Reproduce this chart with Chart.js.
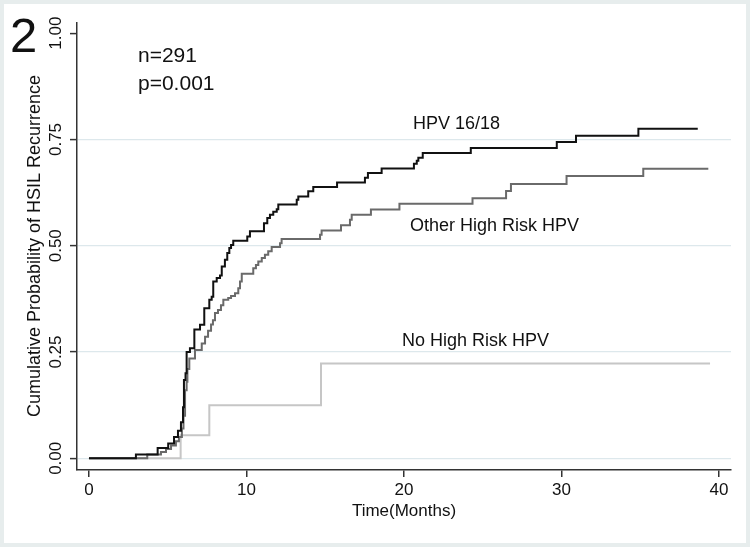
<!DOCTYPE html>
<html>
<head>
<meta charset="utf-8">
<title>HSIL recurrence by HPV type</title>
<script src="https://cdn.jsdelivr.net/npm/chart.js@4.4.1/dist/chart.umd.min.js"></script>
<style>
  html, body { margin: 0; padding: 0; background: #fff; }
  #wrap { width: 750px; height: 547px; position: relative; }
</style>
</head>
<body>
<div id="wrap"><canvas id="myChart" width="750" height="547"></canvas></div>
<script>
// --- Data (time in months, cumulative probability) ---
const hpv1618Time = [0, 2.98, 4.36, 5.03, 5.4, 5.65, 5.84, 5.97, 6.03, 6.13, 6.2, 6.41, 6.69, 7.05, 7.32, 7.64, 7.79, 7.89, 8.11, 8.32, 8.43, 8.63, 8.78, 8.91, 9.02, 9.16, 10.05, 10.22, 11.11, 11.32, 11.49, 11.7, 11.92, 12.02, 13.19, 13.29, 13.92, 14.24, 15.75, 17.52, 17.71, 18.58, 20.63, 20.81, 20.91, 21.19, 24.24, 29.7, 30.92, 34.88, 38.65];
const hpv1618Prob = [0, 0.009, 0.024, 0.035, 0.05, 0.065, 0.085, 0.12, 0.184, 0.2, 0.25, 0.259, 0.303, 0.314, 0.353, 0.373, 0.38, 0.416, 0.424, 0.43, 0.451, 0.467, 0.483, 0.495, 0.502, 0.512, 0.522, 0.534, 0.553, 0.565, 0.573, 0.58, 0.586, 0.597, 0.608, 0.616, 0.628, 0.638, 0.649, 0.66, 0.671, 0.682, 0.693, 0.7, 0.707, 0.718, 0.73, 0.744, 0.759, 0.775, 0.775];

const otherHrTime = [0, 3.7, 4.57, 4.89, 5.21, 5.52, 5.71, 5.9, 6.0, 6.1, 6.2, 6.25, 6.37, 6.73, 7.16, 7.37, 7.56, 7.75, 7.87, 8.0, 8.19, 8.38, 8.53, 8.84, 9.02, 9.27, 9.48, 9.59, 9.7, 10.43, 10.6, 10.75, 10.97, 11.17, 11.38, 11.6, 12.13, 12.23, 14.67, 14.77, 16.0, 16.57, 16.68, 17.9, 19.71, 24.35, 26.48, 26.79, 30.32, 35.19, 39.32];
const otherHrProb = [0, 0.009, 0.015, 0.022, 0.03, 0.04, 0.05, 0.07, 0.1, 0.16, 0.18, 0.21, 0.235, 0.255, 0.27, 0.286, 0.3, 0.315, 0.325, 0.342, 0.349, 0.36, 0.373, 0.377, 0.382, 0.388, 0.4, 0.416, 0.434, 0.447, 0.455, 0.463, 0.471, 0.479, 0.487, 0.497, 0.506, 0.516, 0.526, 0.536, 0.548, 0.561, 0.573, 0.585, 0.599, 0.612, 0.629, 0.645, 0.664, 0.681, 0.681];

const noHrTime = [0, 5.82, 7.64, 14.73, 39.43];
const noHrProb = [0, 0.054, 0.125, 0.223, 0.223];

const seriesNames = ['HPV 16/18', 'Other High Risk HPV', 'No High Risk HPV'];
const xTickValues = [0, 10, 20, 30, 40];
const yTickValues = [0, 0.25, 0.5, 0.75, 1];
const yTickLabels = ['0.00', '0.25', '0.50', '0.75', '1.00'];

const FONT = '"Liberation Sans", Arial, Helvetica, sans-serif';

// --- helper: zip time/prob arrays into {x,y} points ---
function toPoints(times, probs) {
  return times.map((t, i) => ({ x: t, y: probs[i] }));
}

// --- frame, titles, annotations ---
const decorPlugin = {
  id: 'decor',
  beforeDraw(chart) {
    const ctx = chart.ctx;
    ctx.save();
    ctx.fillStyle = '#e7eded';
    ctx.fillRect(0, 0, chart.width, chart.height);
    ctx.fillStyle = '#ffffff';
    ctx.fillRect(4, 4, chart.width - 8, chart.height - 8);
    ctx.restore();
  },
  afterDraw(chart) {
    const ctx = chart.ctx;
    const yScale = chart.scales.y;
    ctx.save();
    ctx.fillStyle = '#111';

    // y tick labels, vertical like the original
    ctx.font = '17px ' + FONT;
    ctx.textAlign = 'center';
    ctx.textBaseline = 'middle';
    yTickValues.forEach((v, i) => {
      const py = yScale.getPixelForValue(v);
      ctx.save();
      ctx.translate(56, py);
      ctx.rotate(-Math.PI / 2);
      ctx.fillText(yTickLabels[i], 0, 0);
      ctx.restore();
    });

    // y axis title
    ctx.save();
    ctx.font = '18px ' + FONT;
    ctx.translate(35, 246);
    ctx.rotate(-Math.PI / 2);
    ctx.fillText('Cumulative Probability of HSIL Recurrence', 0, 0);
    ctx.restore();

    // x axis title
    ctx.font = '17px ' + FONT;
    ctx.fillText('Time(Months)', 404, 511);

    // panel number and stats
    ctx.textAlign = 'left';
    ctx.textBaseline = 'alphabetic';
    ctx.font = '49px ' + FONT;
    ctx.fillText('2', 10, 52);
    ctx.font = '21px ' + FONT;
    ctx.fillText('n=291', 138, 62);
    ctx.fillText('p=0.001', 138, 90);

    // curve labels
    ctx.font = '18px ' + FONT;
    ctx.fillText(seriesNames[0], 413, 129);
    ctx.fillText(seriesNames[1], 410, 231);
    ctx.fillText(seriesNames[2], 402, 346);
    ctx.restore();
  }
};

const ctx = document.getElementById('myChart').getContext('2d');
const chart = new Chart(ctx, {
  type: 'line',
  data: {
    datasets: [
      {
        label: seriesNames[2],
        data: toPoints(noHrTime, noHrProb),
        borderColor: '#c6c6c6',
        borderWidth: 2,
        stepped: 'before',
        pointRadius: 0,
        fill: false,
        order: 3
      },
      {
        label: seriesNames[1],
        data: toPoints(otherHrTime, otherHrProb),
        borderColor: '#6a6a6a',
        borderWidth: 2,
        stepped: 'before',
        pointRadius: 0,
        fill: false,
        order: 2
      },
      {
        label: seriesNames[0],
        data: toPoints(hpv1618Time, hpv1618Prob),
        borderColor: '#111111',
        borderWidth: 2,
        stepped: 'before',
        pointRadius: 0,
        fill: false,
        order: 1
      }
    ]
  },
  options: {
    responsive: false,
    animation: false,
    devicePixelRatio: 1,
    layout: { padding: { top: 23, right: 19, left: 0, bottom: 0 } },
    plugins: {
      legend: { display: false },
      tooltip: { enabled: false }
    },
    scales: {
      x: {
        type: 'linear',
        min: -0.76,
        max: 40.76,
        afterBuildTicks: (scale) => { scale.ticks = xTickValues.map(v => ({ value: v })); },
        afterFit: (scale) => { scale.height = 77; },
        border: { color: '#333', width: 1.5 },
        grid: { drawOnChartArea: false, tickLength: 7, tickColor: '#333', lineWidth: 1.5 },
        ticks: {
          color: '#111',
          padding: 3,
          maxRotation: 0,
          font: { family: FONT, size: 17 },
          callback: (v) => String(v)
        }
      },
      y: {
        type: 'linear',
        min: -0.0275,
        max: 1.024,
        afterBuildTicks: (scale) => { scale.ticks = yTickValues.map(v => ({ value: v })); },
        afterFit: (scale) => { scale.width = 77; },
        border: { color: '#333', width: 1.5 },
        grid: {
          color: (c) => (c.tick && c.tick.value === 1 ? 'rgba(0,0,0,0)' : '#dde8ec'),
          lineWidth: 1.2,
          tickLength: 7,
          tickColor: '#333',
          tickWidth: 1.5
        },
        ticks: { display: false }
      }
    }
  },
  plugins: [decorPlugin]
});
</script>
</body>
</html>
